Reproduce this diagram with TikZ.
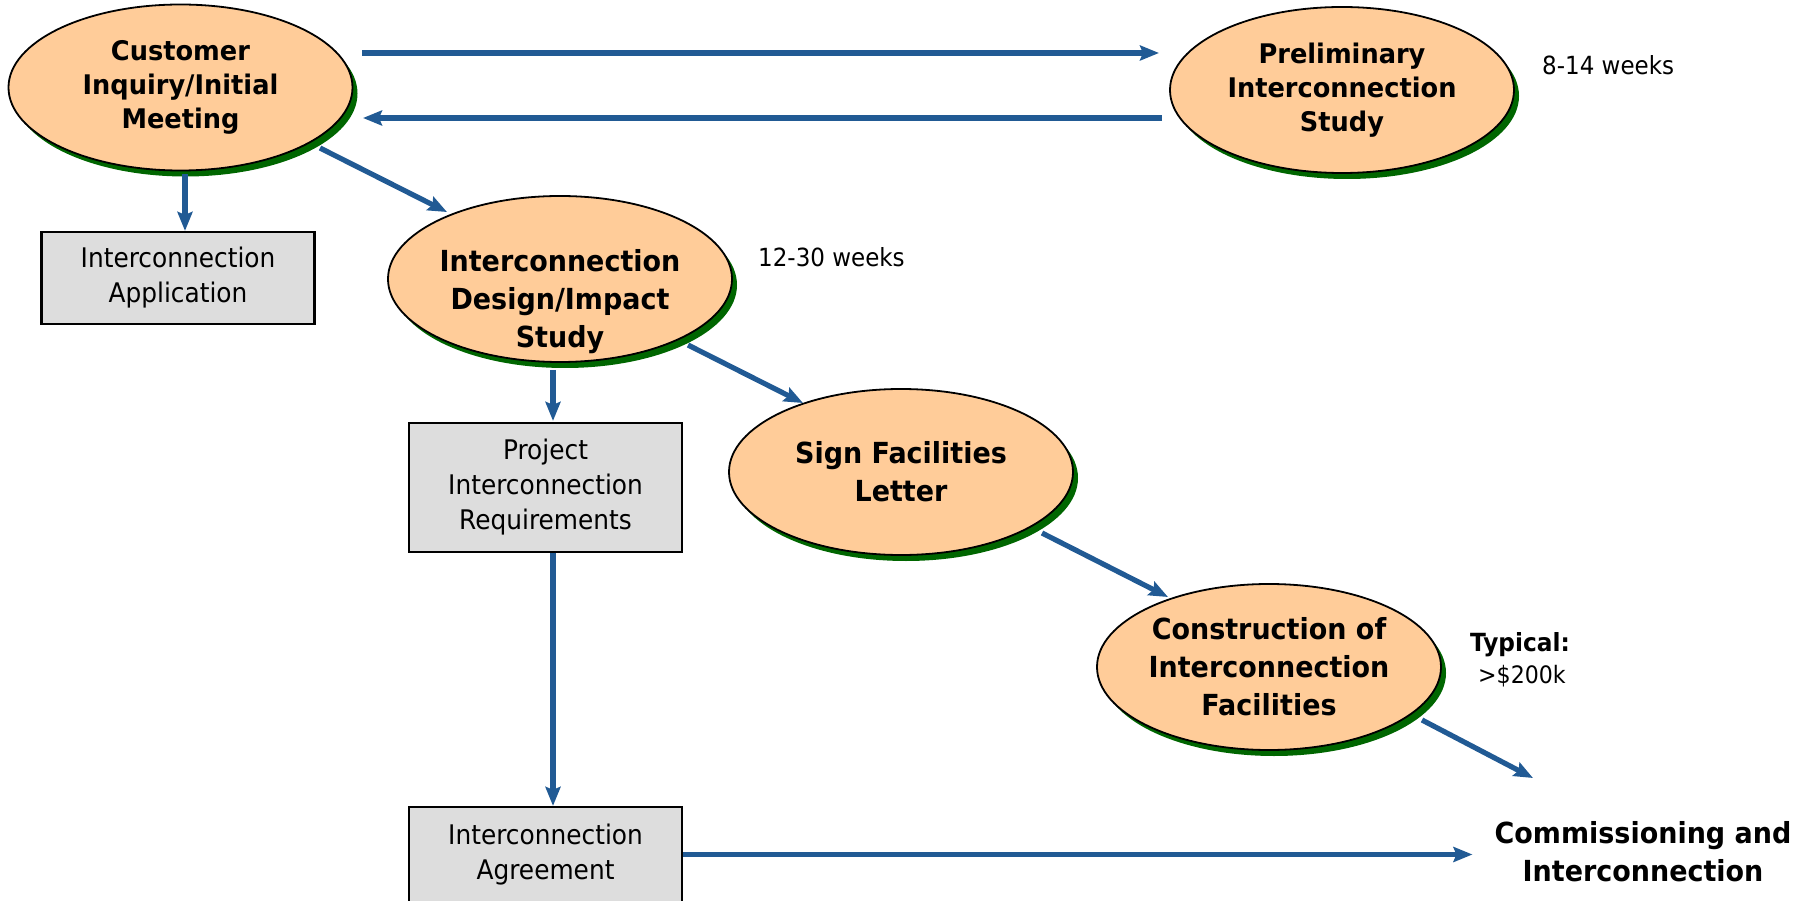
\documentclass[tikz,border=0pt]{standalone}
\usepackage{fontspec}
\setmainfont{DejaVu Sans}
\newfontfamily\topbold[FakeStretch=0.95]{DejaVu Sans}
\newfontfamily\bigbold[FakeStretch=0.93]{DejaVu Sans}
\newfontfamily\regfam[FakeStretch=0.92]{DejaVu Sans}
\usetikzlibrary{shapes.geometric,shadows,arrows.meta,calc}
\definecolor{peach}{HTML}{FFCC99}
\definecolor{shadowgreen}{HTML}{006600}
\definecolor{boxgray}{HTML}{DDDDDD}
\definecolor{arrowblue}{RGB}{33,90,148}
\tikzset{
  oval/.style={ellipse, draw=black, line width=1.8pt, fill=peach,
    minimum width=344pt, minimum height=166pt, inner sep=0pt, align=center,
    drop shadow={shadow xshift=5pt, shadow yshift=-6pt, fill=shadowgreen, opacity=1}},
  topfont/.style={font=\topbold\bfseries\fontsize{27}{34}\selectfont},
  bigfont/.style={font=\bigbold\bfseries\fontsize{29}{38}\selectfont},
  graybox/.style={rectangle, draw=black, line width=2.2pt, fill=boxgray,
    minimum width=273pt, inner sep=0pt, align=center,
    font=\regfam\fontsize{27}{35}\selectfont},
  note/.style={font=\regfam\fontsize{25}{30}\selectfont, inner sep=0pt},
  arr/.style={draw=arrowblue, line width=5.2pt,
    -{Stealth[length=19pt, width=15pt, inset=3pt]}}
}
\begin{document}
\begin{tikzpicture}[x=1pt, y=-1pt]
\useasboundingbox (0,0) rectangle (1816,901);

% ellipses
\node[oval, topfont] (cust) at (180.5,87.5) {Customer\\Inquiry/Initial\\Meeting};
\node[oval, topfont] (prelim) at (1342,90) {Preliminary\\Interconnection\\Study};
\node[oval] (design) at (560,279) {};
\node[bigfont, align=center, inner sep=0pt] (designtxt) at (560,302) {Interconnection\\Design/Impact\\Study};
\node[oval, bigfont] (sign) at (901,472) {Sign Facilities\\Letter};
\node[oval, bigfont] (constr) at (1269,667) {Construction of\\Interconnection\\Facilities};

% boxes
\node[graybox, minimum height=92pt] (app) at (178,278) {Interconnection\\Application};
\node[graybox, minimum height=129pt] (project) at (545.5,487.5) {Project\\Interconnection\\Requirements};
\node[graybox, minimum height=95pt] (agree) at (545.5,854.5) {Interconnection\\Agreement};

% free texts
\node[bigfont, align=center, inner sep=0pt] (comm) at (1643,852) {Commissioning and\\Interconnection};
\node[note, anchor=base west] (w1) at (1542,75) {8-14 weeks};
\node[note, anchor=base west] (w2) at (758,267) {12-30 weeks};
\node[font=\bigbold\bfseries\fontsize{25}{30}\selectfont, inner sep=0pt, anchor=base west] (typ) at (1470,651) {Typical:};
\node[font=\regfam\fontsize{24}{30}\selectfont, inner sep=0pt, anchor=base west] (cost) at (1478,683) {>\$200k};

\coordinate (freeend) at (1533,778);

% connectors
\draw[arr] ($(cust.center)+(181.5,-34.5)$) -- ($(prelim.center)+(-183,-37)$);
\draw[arr] ($(prelim.center)+(-180,28)$) -- ($(cust.center)+(182.5,30.5)$);
\draw[arr] ($(cust.south)+(4.5,3)$) -- ($(app.north)+(7,0)$);
\draw[arr] ($(cust.center)+(139.5,60.5)$) -- ($(design.center)+(-113,-67)$);
\draw[arr] ($(design.south)+(-7,7)$) -- ($(project.north)+(7.5,-1)$);
\draw[arr] ($(design.center)+(128,66)$) -- ($(sign.center)+(-98,-69)$);
\draw[arr] ($(sign.center)+(141,61)$) -- ($(constr.center)+(-101,-70)$);
\draw[arr] ($(constr.center)+(153,53)$) -- (freeend);
\draw[arr] ($(project.south)+(7.5,0)$) -- ($(agree.north)+(7.5,0)$);
\draw[arr] (agree.east) -- ($(agree.east -| comm.west)+(-22,0)$);
\end{tikzpicture}
\end{document}
